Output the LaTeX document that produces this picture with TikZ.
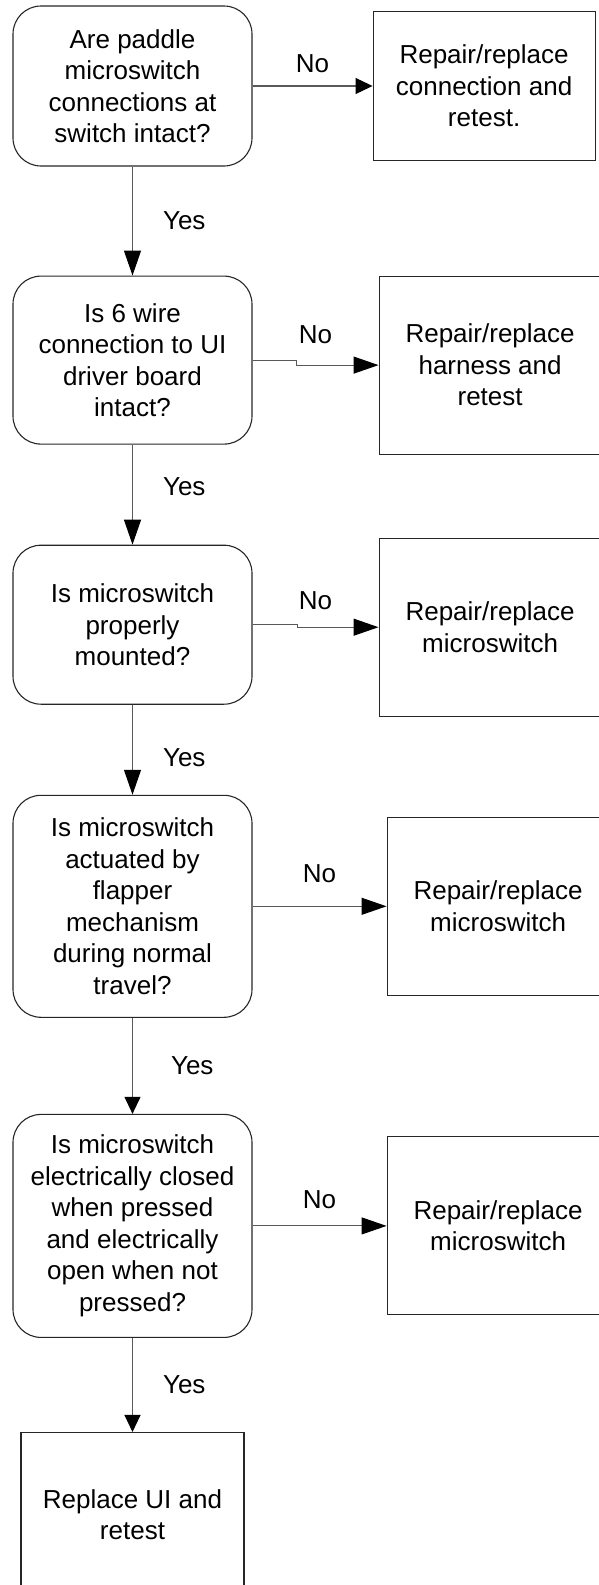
\documentclass[tikz,border=0pt]{standalone}
\usepackage{fontspec}
\setmainfont{Liberation Sans}
\usetikzlibrary{positioning,arrows.meta,calc}

\begin{document}
\begin{tikzpicture}[x=1pt, y=1pt,
  every node/.style={align=center, inner sep=0pt, font=\fontsize{26}{31.5}\selectfont},
  question/.style={draw=black!85, line width=1.1pt, rounded corners=28pt, minimum width=239pt},
  fix/.style={draw=black!85, line width=1.1pt, minimum width=222pt, minimum height=178pt},
  link/.style={draw=black!65, line width=1.1pt, -{Triangle[length=25pt, width=17pt, color=black]}},
  shortlink/.style={draw=black!65, line width=1.1pt, -{Triangle[length=17pt, width=16pt, color=black]}}]
\useasboundingbox (0,0) rectangle (599,-1585);
\clip (0,0) rectangle (599,-1585);
\node (q1) [question, minimum height=160pt] at (132.5,-86) {Are paddle\\microswitch\\connections at\\switch intact?};
\node (q2) [question, minimum height=168pt, below=109pt of q1] {Is 6 wire\\connection to UI\\driver board\\intact?};
\node (q3) [question, minimum height=159pt, below=100pt of q2] {Is microswitch\\properly\\mounted?};
\node (q4) [question, minimum height=222pt, below=90pt of q3] {Is microswitch\\actuated by\\flapper\\mechanism\\during normal\\travel?};
\node (q5) [question, minimum height=223pt, below=96pt of q4] {Is microswitch\\electrically closed\\when pressed\\and electrically\\open when not\\pressed?};
\node (uifix) [fix, minimum width=223pt, minimum height=164pt, below=94pt of q5] {Replace UI and\\retest};
\node (r1) [fix, minimum height=149pt, right=120pt of q1] {Repair/replace\\connection and\\retest.};
\node (r2) [fix, right=126pt of q2, yshift=-5pt] {Repair/replace\\harness and\\retest};
\node (r3) [fix, right=126pt of q3, yshift=-2.5pt] {Repair/replace\\microswitch};
\node (r4) [fix, right=134pt of q4] {Repair/replace\\microswitch};
\node (r5) [fix, right=134pt of q5] {Repair/replace\\microswitch};
\draw[shortlink] (q1) -- node (no1) [above=13pt] {No} (r1);
\draw[link] (q2.east) -- ++(44pt,0) |- (r2);
\node (no2) [above=19pt] at ($(q2.east)!.5!(r2.west)$) {No};
\draw[link] (q3.east) -- ++(45pt,0) |- (r3);
\node (no3) [above=16pt] at ($(q3.east)!.5!(r3.west)$) {No};
\draw[link] (q4) -- node (no4) [above=23pt] {No} (r4);
\draw[link] (q5) -- node (no5) [above=17pt] {No} (r5);
\draw[link] (q1) -- node (yes1) [right=30pt] {Yes} (q2);
\draw[link] (q2) -- node (yes2) [right=30pt, yshift=8pt] {Yes} (q3);
\draw[link] (q3) -- node (yes3) [right=30pt, yshift=-8pt] {Yes} (q4);
\draw[shortlink] (q4) -- node (yes4) [right=38pt] {Yes} (q5);
\draw[shortlink] (q5) -- node (yes5) [right=30pt] {Yes} (uifix);
\end{tikzpicture}
\end{document}
